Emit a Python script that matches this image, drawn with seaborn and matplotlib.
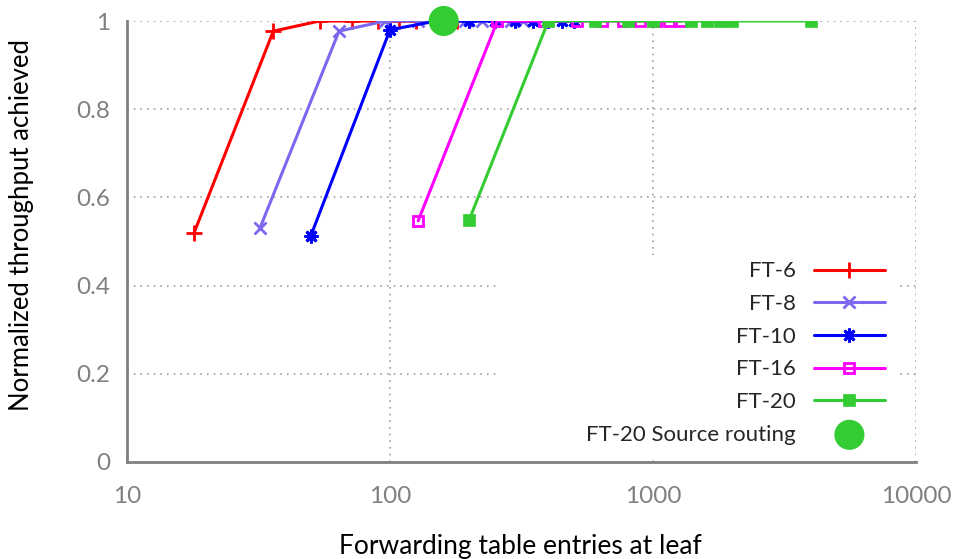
import matplotlib
matplotlib.use("Agg")
import matplotlib.pyplot as plt
import seaborn as sns
import pandas as pd
from matplotlib.patches import Rectangle
from matplotlib.ticker import FixedLocator, FixedFormatter, LogLocator, NullFormatter

# Forwarding-table size vs normalized throughput for fat trees of various port counts
ft6_x = [18, 36, 54, 72, 90, 108, 126, 144, 162, 180]
ft6_y = [0.52, 0.977, 1, 1, 1, 1, 1, 1, 1, 1]

ft8_x = [32, 64, 96, 128, 160, 192, 224, 256, 288, 320]
ft8_y = [0.53, 0.977, 1, 1, 1, 1, 1, 1, 1, 1]

ft10_x = [50, 100, 150, 200, 250, 300, 350, 400, 450, 500]
ft10_y = [0.513, 0.98, 1, 1, 1, 1, 1, 1, 1, 1]

ft16_x = [128, 256, 384, 512, 640, 768, 896, 1024, 1152, 1280]
ft16_y = [0.547, 1, 1, 1, 1, 1, 1, 1, 1, 1]

ft20_x = [200, 400, 600, 800, 1000, 1400, 1600, 1800, 2000, 4000]
ft20_y = [0.549, 1, 1, 1, 1, 1, 1, 1, 1, 1]

src_x = [160]
src_y = [1.0]

series_names = ["FT-6", "FT-8", "FT-10", "FT-16", "FT-20"]
source_name = "FT-20 Source routing"

x_ticks = [10, 100, 1000, 10000]
x_tick_labels = ["10", "100", "1000", "10000"]
y_ticks = [0, 0.2, 0.4, 0.6, 0.8, 1.0]
y_tick_labels = ["0", "0.2", "0.4", "0.6", "0.8", "1"]

sns.set_style("white")
plt.rcParams["font.family"] = ["Lato", "DejaVu Sans"]

fig = plt.figure(figsize=(9.58, 5.59), dpi=100)
ax = fig.add_axes([127 / 958, 1 - 462 / 559, (916 - 127) / 958, (462 - 21) / 559])

green = "#33cc33"
styles = [
    dict(color="#ff0000", marker="+", markersize=11, markeredgewidth=2.0),
    dict(color="#7b68ee", marker="x", markersize=8, markeredgewidth=2.0),
    dict(color="#0000ff", marker=(8, 2, 0), markersize=10, markeredgewidth=2.0),
    dict(color="#ff00ff", marker="s", markersize=7, markeredgewidth=2.0,
         markerfacecolor="none"),
    dict(color=green, marker="s", markersize=9, markeredgewidth=0.5),
]

all_x = [ft6_x, ft8_x, ft10_x, ft16_x, ft20_x]
all_y = [ft6_y, ft8_y, ft10_y, ft16_y, ft20_y]

for name, xs, ys, st in zip(series_names, all_x, all_y, styles):
    df = pd.DataFrame({"entries": xs, "throughput": ys})
    sns.lineplot(data=df, x="entries", y="throughput", ax=ax, label=name,
                 linewidth=2.2, zorder=3, estimator=None,
                 markeredgecolor=st["color"], **st)

sns.scatterplot(x=src_x, y=src_y, ax=ax, s=470, color=green, edgecolor="none",
                label=source_name, zorder=5, clip_on=False)

ax.set_xscale("log")
ax.set_xlim(10, 10000)
ax.set_ylim(0, 1)

ax.xaxis.set_major_locator(FixedLocator(x_ticks))
ax.xaxis.set_major_formatter(FixedFormatter(x_tick_labels))
ax.xaxis.set_minor_locator(LogLocator(base=10, subs=range(2, 10)))
ax.xaxis.set_minor_formatter(NullFormatter())
ax.yaxis.set_major_locator(FixedLocator(y_ticks))
ax.yaxis.set_major_formatter(FixedFormatter(y_tick_labels))

gray = "#808080"
ax.grid(True, which="major", color="#a0a0a0", linestyle=(0, (1, 3)), linewidth=1.2, zorder=0)
ax.set_axisbelow(True)

# white key area that hides the grid behind the legend
ax.add_patch(Rectangle((500 / 958, 1 - 460 / 559), (898 - 500) / 958, (460 - 255) / 559,
                       transform=fig.transFigure, facecolor="white", edgecolor="none",
                       zorder=1))

for side in ["top", "right"]:
    ax.spines[side].set_visible(False)
for side in ["left", "bottom"]:
    ax.spines[side].set_color(gray)
    ax.spines[side].set_linewidth(2)
    ax.spines[side].set_zorder(6)

ax.tick_params(axis="both", which="major", direction="in", length=10, width=1.5,
               color=gray, labelcolor=gray, labelsize=17.5)
ax.tick_params(axis="x", which="major", pad=17)
ax.tick_params(axis="y", which="major", pad=12)
ax.tick_params(axis="x", which="minor", direction="in", length=5, width=1.2, color=gray)

ax.set_xlabel("Forwarding table entries at leaf", fontsize=19, color="black")
ax.set_ylabel("Normalized throughput achieved", fontsize=18.5, color="black")
ax.xaxis.set_label_coords(0.498, -0.163)
ax.yaxis.set_label_coords(-0.118, 0.537)

leg = ax.legend(loc="lower right", bbox_to_anchor=(0.986, -0.006), markerfirst=False,
                frameon=False, fontsize=16, handlelength=3.2, labelspacing=0.57,
                handletextpad=0.8, borderpad=0.4)
leg.set_zorder(4)

fig.savefig("out.png", dpi=100)
